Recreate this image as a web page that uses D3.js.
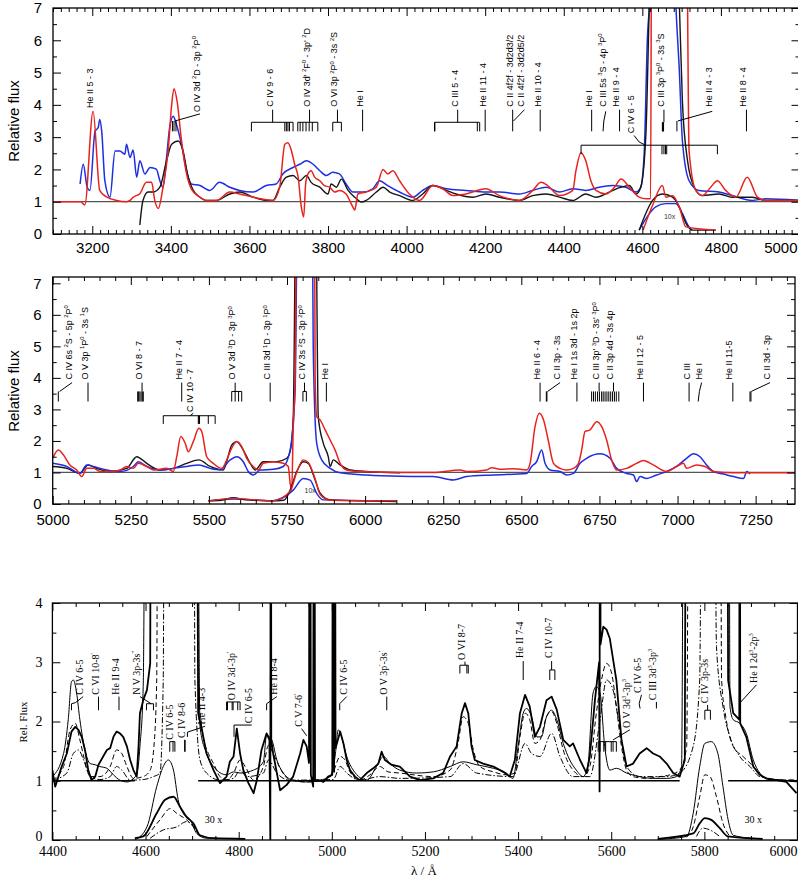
<!DOCTYPE html>
<html><head><meta charset="utf-8">
<script src="https://cdn.jsdelivr.net/npm/d3@7"></script>
<style>
body{margin:0;background:#fff;}
svg{display:block;}
text{white-space:pre;}
</style></head><body>
<svg id="c" width="798" height="882"></svg>
<script>
// ---------------- DATA: top panel (3100-5000 A) ----------------
const topRed = [[3100,1.0],[3170,1.0],[3181,0.9],[3202,3.8],[3219,1.35],[3236,1.15],[3262,1.04],[3287,1.0],[3296,1.04],[3304,1.14],[3321,1.25],[3338,1.6],[3351,1.6],[3359,1.04],[3368,0.79],[3380,1.45],[3393,2.57],[3402,4.0],[3408,4.5],[3416,4.1],[3427,2.9],[3440,1.86],[3452,1.4],[3474,1.14],[3491,1.04],[3516,1.04],[3550,1.3],[3575,1.24],[3610,1.14],[3644,1.06],[3660,1.04],[3677,1.45],[3690,2.78],[3698,2.83],[3707,2.57],[3715,2.16],[3724,1.76],[3732,0.84],[3738,0.53],[3743,1.55],[3749,1.86],[3757,1.96],[3766,1.76],[3779,1.65],[3791,1.5],[3804,1.45],[3817,1.3],[3829,1.35],[3846,1.24],[3863,0.84],[3868,0.74],[3876,1.24],[3897,1.3],[3923,1.45],[3940,2.0],[3952,1.86],[3965,1.96],[3982,1.65],[4007,1.24],[4033,1.04],[4067,1.5],[4092,1.4],[4118,1.19],[4151,1.24],[4202,1.4],[4236,1.19],[4287,1.04],[4321,1.35],[4342,1.6],[4359,1.5],[4389,1.19],[4423,1.35],[4431,1.96],[4444,2.52],[4456,2.27],[4469,1.65],[4482,1.35],[4507,1.24],[4529,1.45],[4546,1.7],[4567,1.45],[4592,1.14],[4609,1.09],[4621,1.09],[4624,12],[4711,12],[4719,2.57],[4736,1.35],[4753,1.19],[4774,1.45],[4791,1.65],[4812,1.35],[4838,1.14],[4867,1.76],[4893,1.14],[4914,1.04],[5000,1.04]];
const topBlue = [[3169,1.55],[3177,2.16],[3187,1.45],[3194,1.35],[3207,3.18],[3215,3.3],[3219,3.55],[3224,3.18],[3232,1.65],[3245,1.14],[3258,2.57],[3270,2.57],[3283,2.47],[3287,2.78],[3296,2.37],[3304,2.6],[3313,1.76],[3321,2.27],[3334,1.86],[3347,2.06],[3363,2.01],[3372,1.65],[3380,1.45],[3389,2.37],[3397,3.3],[3406,3.65],[3414,3.4],[3427,2.78],[3440,1.96],[3452,1.55],[3474,1.5],[3499,1.35],[3524,1.6],[3550,1.45],[3575,1.35],[3609,1.3],[3643,1.5],[3668,1.55],[3685,1.86],[3711,2.06],[3728,2.16],[3745,2.27],[3762,2.16],[3779,1.96],[3796,1.81],[3812,1.91],[3829,1.86],[3846,1.55],[3863,1.3],[3889,1.3],[3914,1.4],[3931,1.65],[3952,1.5],[3982,1.3],[4016,1.14],[4041,1.35],[4067,1.5],[4101,1.4],[4151,1.35],[4202,1.3],[4236,1.3],[4287,1.24],[4321,1.35],[4355,1.45],[4389,1.3],[4423,1.4],[4456,1.35],[4490,1.45],[4524,1.5],[4558,1.45],[4584,1.3],[4596,1.45],[4605,2.57],[4613,6.1],[4619,7.2],[4640,14],[4670,14],[4685,7.2],[4694,5.1],[4702,2.88],[4719,1.65],[4744,1.35],[4795,1.3],[4829,1.19],[4880,1.04],[4914,1.09],[5000,1.04]];
const topBlack = [[3321,0.28],[3329,1.04],[3342,1.3],[3355,1.3],[3372,1.45],[3389,2.27],[3402,2.78],[3419,2.88],[3431,2.57],[3444,1.76],[3457,1.35],[3474,1.14],[3491,1.04],[3516,1.04],[3550,1.24],[3575,1.3],[3610,1.14],[3644,1.04],[3660,1.04],[3677,1.45],[3694,1.76],[3711,1.81],[3728,1.65],[3745,1.81],[3757,1.6],[3779,1.45],[3800,1.24],[3808,1.55],[3821,1.45],[3834,1.7],[3851,1.35],[3868,1.14],[3885,0.99],[3897,1.04],[3923,1.3],[3940,1.45],[3957,1.3],[3982,1.19],[4016,1.04],[4041,1.24],[4067,1.5],[4101,1.35],[4126,1.24],[4168,1.14],[4202,1.24],[4236,1.14],[4287,1.04],[4321,1.19],[4355,1.24],[4389,1.14],[4423,1.04],[4456,1.24],[4482,1.14],[4516,1.3],[4546,1.45],[4567,1.5],[4584,1.24],[4596,1.45],[4609,3.08],[4618,7.2],[4640,14],[4670,14],[4694,7.2],[4702,4.1],[4715,2.27],[4732,1.45],[4753,1.19],[4795,1.24],[4829,1.14],[4880,1.14],[4914,1.04],[5000,1.04]];
const topInsetBlack = [[4592,0.12],[4626,1.04],[4651,1.24],[4677,1.14],[4694,0.84],[4711,0.33],[4727,0.12],[4787,0.12]];
const topInsetRed = [[4602,0.12],[4626,0.89],[4651,1.5],[4660,1.14],[4677,1.19],[4694,0.84],[4711,0.22],[4787,0.12]];
const topInsetBlue = [[4592,0.12],[4634,0.84],[4660,0.94],[4685,0.94],[4702,0.63],[4719,0.22],[4727,0.12]];

// ---------------- DATA: middle panel (5000-7376 A) ----------------
const midRed = [[5000,1.45],[5018,1.71],[5034,1.56],[5055,1.24],[5077,1.08],[5093,0.87],[5109,1.13],[5130,1.13],[5152,1.03],[5184,1.03],[5216,1.08],[5237,1.19],[5258,1.13],[5274,1.29],[5301,1.19],[5322,1.08],[5365,1.13],[5386,1.03],[5397,1.5],[5410,2.14],[5424,1.93],[5434,1.66],[5450,1.98],[5468,2.4],[5477,2.3],[5493,1.5],[5514,1.29],[5541,1.13],[5557,1.4],[5573,1.77],[5589,1.98],[5605,1.82],[5621,1.45],[5642,1.19],[5658,1.08],[5674,1.29],[5706,1.34],[5738,1.29],[5754,1.19],[5760,0.66],[5765,0.44],[5770,2.46],[5776,4.0],[5781,12],[5837,12],[5840,4.04],[5845,2.77],[5856,2.67],[5872,2.35],[5888,2.03],[5904,1.71],[5920,1.29],[5941,1.08],[5984,1.03],[6112,1.0],[6218,1.0],[6304,1.08],[6325,1.03],[6389,1.08],[6405,1.15],[6432,1.1],[6475,1.12],[6517,1.08],[6528,1.29],[6544,2.46],[6558,2.88],[6571,2.67],[6586,2.03],[6603,1.29],[6624,1.13],[6645,1.08],[6667,1.13],[6683,1.29],[6693,1.71],[6704,2.3],[6720,2.35],[6741,2.61],[6757,2.46],[6773,2.03],[6789,1.4],[6805,1.08],[6837,1.13],[6869,1.29],[6891,1.38],[6922,1.24],[6965,1.03],[6997,1.19],[7019,1.29],[7029,1.13],[7061,1.24],[7088,1.19],[7115,1.03],[7179,0.99],[7386,0.99]];
const midBlue = [[5000,1.29],[5045,1.19],[5087,0.97],[5109,1.24],[5130,1.19],[5173,1.08],[5216,1.03],[5258,1.19],[5274,1.34],[5301,1.19],[5344,1.08],[5386,1.13],[5429,1.19],[5468,1.24],[5504,1.13],[5536,1.08],[5568,1.4],[5589,1.5],[5610,1.34],[5626,1.03],[5642,0.92],[5664,1.08],[5706,1.1],[5738,1.19],[5760,1.71],[5776,3.62],[5786,12],[5829,12],[5834,4.89],[5845,1.93],[5861,1.4],[5888,1.13],[5920,0.99],[6005,0.92],[6112,0.88],[6218,0.87],[6282,0.76],[6325,0.87],[6410,0.92],[6517,0.97],[6533,1.19],[6549,1.34],[6565,1.71],[6576,1.29],[6592,1.08],[6624,1.03],[6645,0.92],[6667,0.97],[6688,1.29],[6709,1.45],[6752,1.59],[6784,1.45],[6805,1.13],[6837,0.97],[6859,0.92],[6869,0.71],[6880,0.87],[6901,0.81],[6933,0.92],[6965,1.03],[6997,1.19],[7029,1.45],[7051,1.59],[7072,1.5],[7093,1.24],[7115,1.03],[7147,0.95],[7179,0.87],[7211,0.81],[7222,1.03],[7232,0.95]];
const midBlack = [[5000,1.19],[5045,1.13],[5087,0.97],[5114,1.24],[5141,1.13],[5184,1.03],[5237,1.13],[5269,1.5],[5280,1.45],[5301,1.29],[5344,1.08],[5386,1.13],[5429,1.29],[5468,1.4],[5504,1.19],[5546,1.08],[5573,1.87],[5589,1.98],[5610,1.71],[5632,1.29],[5648,1.08],[5674,1.34],[5717,1.34],[5749,1.45],[5760,1.66],[5770,2.77],[5781,12],[5840,12],[5850,2.77],[5866,1.93],[5882,1.5],[5888,1.19],[5898,1.4],[5920,1.24],[5952,1.08],[6005,1.03],[6112,0.99]];
const midInsetBlack = [[5498,0.1],[5540,0.12],[5578,0.2],[5620,0.13],[5700,0.1],[5740,0.12],[5760,0.44],[5781,1.03],[5802,1.34],[5818,1.29],[5840,0.76],[5856,0.34],[5888,0.13],[6100,0.08]];
const midInsetRed = [[5498,0.1],[5578,0.18],[5700,0.1],[5760,0.4],[5781,1.0],[5802,1.4],[5818,1.32],[5840,0.8],[5856,0.3],[5888,0.12],[6100,0.1]];
const midInsetBlue = [[5498,0.1],[5578,0.16],[5700,0.1],[5770,0.44],[5802,0.81],[5824,0.76],[5845,0.34],[5866,0.13],[6100,0.1]];

// ---------------- DATA: bottom panel (4400-6000 A) ----------------
const botObs = [[4400,1.18],[4406,0.9],[4413,1.07],[4420,1.24],[4431,1.46],[4441,1.83],[4449,1.91],[4456,1.86],[4463,1.74],[4470,1.52],[4477,1.18],[4484,1.01],[4492,1.07],[4499,1.27],[4509,1.41],[4517,1.52],[4524,1.55],[4531,1.74],[4538,1.83],[4545,1.8],[4552,1.74],[4560,1.58],[4567,1.35],[4574,1.18],[4581,1.07],[4585,1.58],[4588,2.14],[4595,2.36],[4603,2.53],[4610,2.98],[4613,12],[4708,12],[4713,2.14],[4721,1.86],[4731,1.46],[4746,1.18],[4760,0.96],[4774,1.07],[4781,1.32],[4789,1.41],[4796,1.88],[4803,1.46],[4810,1.18],[4821,0.96],[4832,0.79],[4839,1.01],[4849,1.52],[4860,1.8],[4866,1.69],[4868,0],[4869,12],[4870,1.69],[4874,1.46],[4882,1.13],[4889,0.84],[4903,0.93],[4917,1.07],[4932,1.46],[4939,1.69],[4946,1.58],[4951,1.3],[4953,12],[4955,1.1],[4960,0.9],[4962,12],[4964,1.0],[4971,1.01],[4982,0.98],[4992,1.07],[5001,1.1],[5003,12],[5005,1.15],[5006,12],[5008,1.55],[5018,1.83],[5025,1.63],[5032,1.35],[5039,1.18],[5050,1.07],[5060,1.01],[5075,1.13],[5089,1.21],[5100,1.29],[5107,1.49],[5114,1.35],[5128,1.27],[5146,1.24],[5168,1.07],[5189,1.01],[5218,1.04],[5239,1.13],[5254,1.41],[5268,1.58],[5279,2.14],[5286,2.31],[5293,2.14],[5300,1.58],[5307,1.35],[5325,1.29],[5347,1.24],[5368,1.15],[5382,1.07],[5393,1.35],[5404,2.14],[5415,2.45],[5425,2.25],[5436,1.74],[5447,1.91],[5461,2.36],[5472,2.42],[5483,2.2],[5497,1.69],[5511,1.58],[5518,1.63],[5533,1.35],[5547,1.13],[5554,1.41],[5565,2.36],[5574,3.0],[5575,0.82],[5576,12],[5577,3.3],[5583,3.6],[5590,3.55],[5597,3.4],[5611,2.7],[5622,1.69],[5633,1.24],[5647,1.29],[5661,1.46],[5676,1.55],[5690,1.46],[5704,1.41],[5719,1.29],[5733,1.13],[5747,1.07],[5758,1.35],[5762,12],[5848,12],[5851,2.7],[5862,2.14],[5875,2.03],[5876,12],[5877,1.97],[5890,1.74],[5905,1.24],[5919,1.1],[5933,1.04],[5955,1.01],[5976,0.98],[5998,0.79]];
const botModelA = [[4400,1.07],[4424,1.46],[4434,2.03],[4441,2.67],[4445,2.7],[4452,2.48],[4459,2.03],[4470,1.52],[4481,1.29],[4492,1.27],[4502,1.24],[4517,1.21],[4531,1.1],[4545,1.01],[4560,0.98],[4581,1.1],[4588,1.58],[4595,2.59],[4603,12],[4708,12],[4717,1.91],[4731,1.46],[4746,1.24],[4774,1.1],[4789,1.15],[4803,1.13],[4832,1.18],[4853,1.32],[4860,1.77],[4871,1.69],[4882,1.35],[4896,1.13],[4917,1.01],[4946,0.98],[4975,1.01],[4996,1.07],[5007,1.41],[5014,1.86],[5021,1.74],[5032,1.41],[5046,1.18],[5075,1.01],[5096,1.24],[5111,1.41],[5125,1.29],[5146,1.18],[5182,1.13],[5218,1.15],[5254,1.24],[5282,1.32],[5311,1.27],[5347,1.21],[5375,1.13],[5389,1.04],[5400,1.58],[5411,2.14],[5418,2.22],[5429,2.08],[5440,1.74],[5450,1.74],[5461,2.08],[5472,2.19],[5483,2.03],[5497,1.63],[5511,1.35],[5525,1.18],[5540,1.07],[5550,1.27],[5561,2.48],[5568,2.59],[5576,2.48],[5586,1.58],[5597,1.18],[5611,1.21],[5633,1.13],[5661,1.07],[5690,1.04],[5719,1.04],[5740,1.07],[5751,1.24],[5758,12],[5852,12],[5855,2.25],[5862,2.03],[5876,1.97],[5890,1.8],[5905,1.35],[5919,1.13],[5933,1.04],[5969,1.01],[5998,0.98]];
const botModelB = [[4400,1.01],[4424,1.24],[4438,1.86],[4449,1.97],[4459,1.69],[4470,1.32],[4481,1.07],[4502,1.07],[4524,1.24],[4538,1.52],[4549,1.46],[4560,1.24],[4574,1.04],[4595,1.07],[4610,1.18],[4618,1.58],[4624,2.7],[4628,12],[4710,12],[4713,2.7],[4724,1.74],[4735,1.46],[4746,1.29],[4760,1.07],[4774,1.01],[4789,1.13],[4803,1.35],[4814,1.24],[4832,1.01],[4853,1.24],[4864,1.6],[4874,1.46],[4889,1.21],[4910,1.01],[4946,0.98],[4989,1.01],[5003,1.15],[5018,1.41],[5028,1.35],[5039,1.15],[5060,1.01],[5082,1.1],[5103,1.24],[5121,1.15],[5146,1.13],[5218,1.07],[5254,1.18],[5271,1.63],[5282,2.08],[5293,1.97],[5304,1.52],[5318,1.24],[5347,1.15],[5375,1.1],[5393,1.13],[5404,1.74],[5415,2.14],[5425,2.03],[5436,1.63],[5447,1.69],[5461,2.08],[5472,2.17],[5483,1.97],[5497,1.52],[5518,1.18],[5540,1.07],[5554,1.24],[5568,2.14],[5579,2.7],[5590,2.98],[5601,2.81],[5611,2.25],[5622,1.58],[5633,1.18],[5647,1.07],[5676,1.04],[5704,1.07],[5726,1.1],[5747,1.18],[5762,1.58],[5769,12],[5833,12],[5837,2.7],[5847,2.03],[5862,1.58],[5883,1.41],[5905,1.24],[5919,1.1],[5941,1.02],[5998,1.01]];
const botModelC = [[4400,1.01],[4431,1.13],[4445,1.46],[4456,1.52],[4467,1.35],[4481,1.07],[4502,1.02],[4524,1.07],[4538,1.24],[4549,1.18],[4567,1.01],[4595,1.02],[4617,1.07],[4631,1.13],[4638,2.7],[4642,12],[4703,12],[4706,2.7],[4717,1.35],[4731,1.13],[4760,1.01],[4789,1.04],[4803,1.18],[4817,1.07],[4853,1.13],[4864,1.35],[4882,1.13],[4910,1.01],[5003,1.02],[5018,1.24],[5032,1.13],[5060,1.01],[5103,1.07],[5146,1.04],[5254,1.07],[5282,1.29],[5311,1.13],[5389,1.07],[5415,1.63],[5429,1.46],[5447,1.41],[5472,1.8],[5490,1.41],[5518,1.07],[5554,1.07],[5576,2.03],[5590,2.7],[5604,2.53],[5619,1.86],[5633,1.24],[5661,1.07],[5719,1.07],[5747,1.13],[5776,1.58],[5790,2.7],[5797,12],[5819,12],[5826,3.26],[5840,2.25],[5855,1.74],[5876,1.41],[5898,1.24],[5919,1.07],[5969,1.01],[5998,1.01]];
// 30x insets
const botInsetObs1 = [[4577,0.03],[4595,0.06],[4624,0.45],[4642,0.68],[4660,0.73],[4674,0.56],[4688,0.39],[4703,0.28],[4717,0.08],[4746,0.03],[4814,0.02]];
const botInsetA1 = [[4577,0],[4603,0.22],[4624,0.9],[4638,1.24],[4649,1.35],[4660,1.18],[4670,0.68],[4681,0.45],[4696,0.34],[4710,0.11],[4731,0.03],[4814,0.02]];
const botInsetB1 = [[4603,0.06],[4631,0.34],[4653,0.53],[4667,0.45],[4688,0.34],[4703,0.22],[4717,0.06]];
const botInsetC1 = [[4610,0.03],[4638,0.17],[4667,0.22],[4688,0.31],[4706,0.2],[4717,0.06]];
const botInsetObs2 = [[5700,0.02],[5776,0.11],[5790,0.28],[5801,0.37],[5815,0.34],[5833,0.2],[5851,0.06],[5925,0.02]];
const botInsetA2 = [[5700,0.01],[5762,0.06],[5776,0.45],[5790,1.24],[5801,1.63],[5815,1.66],[5829,1.46],[5840,0.9],[5851,0.34],[5862,0.08],[5901,0.03],[5925,0.02]];
const botInsetB2 = [[5762,0.05],[5776,0.22],[5790,0.73],[5801,1.1],[5812,1.07],[5826,0.73],[5840,0.28],[5855,0.06]];
const botInsetC2 = [[5783,0.06],[5797,0.2],[5812,0.17],[5833,0.06]];
const botBaseline = [[4400,4577],[4713,5747],[5851,6000]];

// ---------------- LINE IDENTIFICATIONS ----------------
const topLabels = [
 {t:"He II 5 - 3", x:3202, y:3.9},
 {t:"O IV 3d {2}D - 3p {2}P{0}", x:3474, y:3.78, segs:[[3474,3.72,3410,3.5]], ticks:[3404,3408,3413], tk:[3.5,3.18]},
 {t:"C IV 9 - 6", x:3659, y:3.94, segs:[[3659,3.85,3659,3.46],[3605,3.46,3711,3.46]], ticks:[3605,3690,3694,3698,3702,3711], tk:[3.46,3.18]},
 {t:"O IV 3d' {2}F{0} - 3p' {2}D", x:3753, y:3.94, segs:[[3753,3.85,3753,3.46],[3723,3.46,3774,3.46]], ticks:[3723,3729,3736,3744,3752,3760,3774], tk:[3.46,3.18]},
 {t:"O VI 3p {2}P{0} - 3s {2}S", x:3824, y:3.94, segs:[[3824,3.85,3824,3.46],[3812,3.46,3834,3.46]], ticks:[3812,3834], tk:[3.46,3.18]},
 {t:"He I", x:3888, y:3.94, ticks:[3888], tk:[3.85,3.18]},
 {t:"C III 5 - 4", x:4130, y:3.94, segs:[[4130,3.85,4130,3.46],[4071,3.46,4185,3.46]], ticks:[4071,4072,4180,4186], tk:[3.46,3.18]},
 {t:"He II 11 - 4", x:4202, y:3.94, ticks:[4200], tk:[3.85,3.18]},
 {t:"C II 4f2f - 3d2d3/2", x:4270, y:3.94, ticks:[4270], tk:[3.85,3.18]},
 {t:"C II 4f2f - 3d2d5/2", x:4300, y:3.94, segs:[[4300,3.85,4272,3.5]]},
 {t:"He II 10 - 4", x:4342, y:3.94, ticks:[4340], tk:[3.85,3.18]},
 {t:"He I", x:4473, y:3.94, ticks:[4471], tk:[3.85,3.18]},
 {t:"C III 5s {3}S - 4p {3}P{0}", x:4507, y:3.94, segs:[[4507,3.8,4502,3.5],[4502,3.5,4500,3.18]]},
 {t:"He II 9 - 4", x:4541, y:3.94, ticks:[4542], tk:[3.85,3.18]},
 {t:"C IV 6 - 5", x:4579, y:3.12, segs:[[4579,3.05,4592,2.85],[4592,2.85,4608,2.75],[4444,2.75,4791,2.75]], ticks:[4444,4650,4655,4659,4662,4791], tk:[2.75,2.47]},
 {t:"C III 3p {3}P{0} - 3s {3}S", x:4655, y:3.94, segs:[[4655,3.85,4655,3.46]], ticks:[4651,4652,4653,4654], tk:[3.46,3.18]},
 {t:"He II 4 - 3", x:4778, y:3.94, segs:[[4778,3.8,4690,3.5]], ticks:[4688], tk:[3.5,3.18]},
 {t:"He II 8 - 4", x:4865, y:3.94, ticks:[4865], tk:[3.85,3.18]}
];
const midLabels = [
 {t:"C IV 6s {2}S - 5p {2}P{0}", x:5062, y:3.95, segs:[[5062,3.85,5022,3.57]], ticks:[5018], tk:[3.57,3.25]},
 {t:"O V 3p {1}P{0} - 3s {1}S", x:5113, y:3.95, ticks:[5113], tk:[3.85,3.25]},
 {t:"O VI 8 - 7", x:5286, y:3.95, segs:[[5286,3.85,5286,3.57]], ticks:[5272,5275,5279,5283,5287,5290], tk:[3.57,3.25]},
 {t:"He II 7 - 4", x:5413, y:3.95, ticks:[5413], tk:[3.85,3.25]},
 {t:"C IV 10 - 7", x:5450, y:2.92, segs:[[5450,2.88,5440,2.8],[5354,2.8,5520,2.8]], ticks:[5354,5466,5468,5470,5498,5520], tk:[2.8,2.54]},
 {t:"O V 3d {3}D - 3p {3}P{0}", x:5584, y:3.95, segs:[[5584,3.85,5584,3.57],[5573,3.57,5605,3.57]], ticks:[5573,5584,5595,5605], tk:[3.57,3.25]},
 {t:"C III 3d {1}D - 3p {1}P{0}", x:5696, y:3.95, ticks:[5696], tk:[3.85,3.25]},
 {t:"C IV 3s {2}S - 3p {2}P{0}", x:5808, y:3.95, segs:[[5806,3.85,5806,3.57],[5801,3.57,5812,3.57]], ticks:[5801,5812], tk:[3.57,3.25]},
 {t:"He I", x:5881, y:3.95, ticks:[5876], tk:[3.85,3.25]},
 {t:"He II 6 - 4", x:6560, y:3.95, ticks:[6560], tk:[3.85,3.25]},
 {t:"C II 3p - 3s", x:6624, y:3.95, segs:[[6624,3.85,6584,3.57]], ticks:[6580,6582], tk:[3.57,3.25]},
 {t:"He I 1s 3d - 1s 2p", x:6677, y:3.95, ticks:[6678], tk:[3.85,3.25]},
 {t:"C III 3p' {3}D - 3s' {3}P{0}", x:6749, y:3.95, segs:[[6749,3.85,6749,3.57]], ticks:[6725,6731,6737,6744,6750,6757,6762,6768,6774,6780,6786,6792,6798,6804,6812], tk:[3.57,3.25]},
 {t:"C II 3p 4d - 3s 4p", x:6795, y:3.95, segs:[[6795,3.85,6795,3.57]]},
 {t:"He II 12 - 5", x:6891, y:3.95, ticks:[6891], tk:[3.85,3.25]},
 {t:"C III", x:7040, y:3.95, ticks:[7037], tk:[3.85,3.25]},
 {t:"He I", x:7077, y:3.95, segs:[[7077,3.85,7070,3.57],[7070,3.57,7066,3.25]]},
 {t:"He II 11-5", x:7175, y:3.95, ticks:[7177], tk:[3.85,3.25]},
 {t:"C II 3d - 3p", x:7296, y:3.95, segs:[[7296,3.85,7236,3.57]], ticks:[7232,7235], tk:[3.57,3.25]}
];
const botLabels = [
 {t:"C IV 6-5", x:4466, y:2.45, segs:[[4466,2.42,4450,2.32],[4450,2.32,4441,2.3]], ticks:[4441], tk:[2.3,2.19]},
 {t:"C VI 10-8{'}", x:4499, y:2.45, ticks:[4499], tk:[2.42,2.19]},
 {t:"He II 9-4", x:4543, y:2.45, ticks:[4543], tk:[2.42,2.19]},
 {t:"N V 3p-3s{''}", x:4588, y:2.45, segs:[[4588,2.42,4612,2.3],[4602,2.3,4617,2.3]], ticks:[4602,4617], tk:[2.3,2.19]},
 {t:"C IV 6-5", x:4660, y:1.69, segs:[[4652,1.66,4663,1.66]], ticks:[4652,4659,4663], tk:[1.66,1.49]},
 {t:"C IV 8-6", x:4685, y:1.72, ticks:[4684,4685], tk:[1.69,1.49]},
 {t:"He II 4-3", x:4728, y:1.95, segs:[[4728,1.92,4690,1.82]], ticks:[4690], tk:[1.82,1.74]},
 {t:"O IV 3d{'}-3p{'}", x:4792, y:2.36, segs:[[4774,2.33,4803,2.33]], ticks:[4774,4776,4786,4788,4798,4803], tk:[2.33,2.19]},
 {t:"C IV 6-5", x:4828, y:1.97, segs:[[4828,1.94,4790,1.94]], ticks:[4790], tk:[1.94,1.74]},
 {t:"He II 8-4", x:4882, y:2.45, segs:[[4882,2.42,4860,2.3]], ticks:[4860], tk:[2.3,2.19]},
 {t:"C V 7-6{'}", x:4935, y:1.91, segs:[[4935,1.88,4946,1.76]]},
 {t:"C IV 6-5", x:5032, y:2.45, segs:[[5032,2.42,5017,2.3]], ticks:[5017], tk:[2.3,2.19]},
 {t:"O V 3p{'}-3s{'}", x:5118, y:2.45, ticks:[5118], tk:[2.42,2.19]},
 {t:"O VI 8-7", x:5286, y:3.04, segs:[[5286,3.01,5286,2.95],[5275,2.95,5293,2.95]], ticks:[5275,5290,5293], tk:[2.95,2.81]},
 {t:"He II 7-4", x:5411, y:3.07, ticks:[5411], tk:[3.02,2.7]},
 {t:"C IV 10-7", x:5472, y:3.07, segs:[[5472,3.02,5472,2.87],[5468,2.87,5479,2.87]], ticks:[5468,5479], tk:[2.87,2.7]},
 {t:"O V 3d{3}-3p{3}", x:5640, y:1.89, segs:[[5640,1.86,5604,1.69],[5572,1.66,5611,1.66]], ticks:[5572,5576,5584,5588,5600,5604,5611], tk:[1.66,1.49]},
 {t:"C IV 6-5", x:5665, y:2.48, segs:[[5665,2.45,5660,2.3],[5660,2.3,5662,2.22]]},
 {t:"C III 3d{3}-3p{3}", x:5697, y:2.36, ticks:[5697], tk:[2.33,2.22]},
 {t:"C IV 3p-3s", x:5808, y:2.31, segs:[[5807,2.28,5807,2.19],[5801,2.19,5813,2.19]], ticks:[5801,5813], tk:[2.19,2.03]},
 {t:"He I 2d{3}-2p{3}", x:5912, y:2.65, segs:[[5912,2.62,5876,2.31]]}
];

// ---------------- DRAWING ----------------
const SANS = "'Liberation Sans', Arial, Helvetica, sans-serif";
const SERIF = "'Liberation Serif', 'Times New Roman', serif";
const svg = d3.select("#c");
const defs = svg.append("defs");
const W = 798;

function makePanel(id, cfg) {
  const x = d3.scaleLinear().domain(cfg.xd).range(cfg.xr);
  const y = d3.scaleLinear().domain(cfg.yd).range(cfg.yr);
  const [L, R] = cfg.xr, [B, T] = cfg.yr;
  defs.append("clipPath").attr("id", "clip" + id).append("rect")
    .attr("x", L).attr("y", T).attr("width", R - L).attr("height", B - T);
  const g = svg.append("g");
  const plot = g.append("g").attr("clip-path", `url(#clip${id})`);
  const ax = g.append("g");
  const xMaj = d3.range(Math.ceil(cfg.xd[0] / cfg.xMaj) * cfg.xMaj, cfg.xd[1] + 0.01, cfg.xMaj);
  const xMin = d3.range(Math.ceil(cfg.xd[0] / cfg.xMin) * cfg.xMin, cfg.xd[1] + 0.01, cfg.xMin).filter(v => v % cfg.xMaj !== 0);
  const yMaj = d3.range(0, cfg.yd[1] + 0.001, 1);
  const yMin = d3.range(0.5, cfg.yd[1] + 0.001, 1);
  const style = a => a.call(s => s.select(".domain").remove())
    .call(s => s.selectAll("line").attr("stroke", "#000").attr("stroke-width", 1))
    .call(s => s.selectAll("text").attr("font-family", cfg.font).attr("font-size", cfg.fs).attr("fill", "#000"));
  // bottom
  const xb = ax.append("g").attr("transform", `translate(0,${B})`)
    .call(d3.axisBottom(x).tickValues(xMaj).tickFormat(d3.format("d")).tickSize(-8).tickPadding(cfg.xpad)).call(style);
  // keep the last label inside the page
  xb.selectAll(".tick text").filter(d => x(d) + cfg.fs * 1.2 > W)
    .attr("text-anchor", "end").attr("x", d => W - 1 - x(d));
  ax.append("g").attr("transform", `translate(0,${B})`)
    .call(d3.axisBottom(x).tickValues(xMin).tickFormat("").tickSize(-4)).call(style);
  // top
  ax.append("g").attr("transform", `translate(0,${T})`)
    .call(d3.axisTop(x).tickValues(xMaj).tickFormat("").tickSize(-8)).call(style);
  ax.append("g").attr("transform", `translate(0,${T})`)
    .call(d3.axisTop(x).tickValues(xMin).tickFormat("").tickSize(-4)).call(style);
  // left
  const yl = ax.append("g").attr("transform", `translate(${L},0)`)
    .call(d3.axisLeft(y).tickValues(yMaj).tickFormat(d3.format("d")).tickSize(-8).tickPadding(cfg.ypad)).call(style);
  if (cfg.zeroUp) yl.selectAll(".tick text").filter(d => d === 0).attr("dy", "0.05em");
  ax.append("g").attr("transform", `translate(${L},0)`)
    .call(d3.axisLeft(y).tickValues(yMin).tickFormat("").tickSize(-4)).call(style);
  // right
  ax.append("g").attr("transform", `translate(${R},0)`)
    .call(d3.axisRight(y).tickValues(yMaj).tickFormat("").tickSize(-8)).call(style);
  ax.append("g").attr("transform", `translate(${R},0)`)
    .call(d3.axisRight(y).tickValues(yMin).tickFormat("").tickSize(-4)).call(style);
  g.append("rect").attr("x", L).attr("y", T).attr("width", R - L).attr("height", B - T)
    .attr("fill", "none").attr("stroke", "#000").attr("stroke-width", 1.3);
  return {x, y, plot, g};
}

function drawLine(P, data, color, width, dash, curve) {
  const line = d3.line().x(d => P.x(d[0])).y(d => P.y(d[1])).curve(curve || d3.curveMonotoneX);
  P.plot.append("path").datum(data).attr("d", line).attr("fill", "none")
    .attr("stroke", color).attr("stroke-width", width).attr("stroke-linejoin", "round")
    .attr("stroke-dasharray", dash || null);
}

function richText(sel, str, fs) {
  const parts = str.split(/[{}]/);
  let prevSup = false;
  parts.forEach((p, i) => {
    if (!p) return;
    const sup = i % 2 === 1;
    const ts = sel.append("tspan").text(p);
    if (sup) ts.attr("font-size", fs * 0.65).attr("dy", prevSup ? 0 : -fs * 0.4);
    else ts.attr("dy", prevSup ? fs * 0.4 : 0);
    prevSup = sup;
  });
}

function drawLabels(P, labels, font, fs) {
  const lg = P.g.append("g");
  labels.forEach(Lb => {
    const t = lg.append("text")
      .attr("transform", `translate(${P.x(Lb.x)},${P.y(Lb.y)}) rotate(-90)`)
      .attr("dy", "0.35em").attr("font-family", font).attr("font-size", fs).attr("fill", "#000");
    richText(t, Lb.t, fs);
    (Lb.segs || []).forEach(s => lg.append("line")
      .attr("x1", P.x(s[0])).attr("y1", P.y(s[1])).attr("x2", P.x(s[2])).attr("y2", P.y(s[3]))
      .attr("stroke", "#000").attr("stroke-width", 1));
    (Lb.ticks || []).forEach(v => lg.append("line")
      .attr("x1", P.x(v)).attr("x2", P.x(v)).attr("y1", P.y(Lb.tk[0])).attr("y2", P.y(Lb.tk[1]))
      .attr("stroke", "#000").attr("stroke-width", 1));
  });
}

const RED = "#e8231d", BLUE = "#1e2ee0", BLK = "#151515";

// ---- Panel 1
const P1 = makePanel(1, {xd:[3100,5000], xr:[53,799.5], yd:[0,7], yr:[234,8], xMaj:200, xMin:20, font:SANS, fs:15, xpad:8, ypad:11});
P1.plot.append("line").attr("x1", P1.x(3100)).attr("x2", P1.x(5000)).attr("y1", P1.y(1)).attr("y2", P1.y(1)).attr("stroke", "#555").attr("stroke-width", 1.2);
drawLine(P1, topBlue, BLUE, 1.5);
drawLine(P1, topBlack, BLK, 1.4);
drawLine(P1, topRed, RED, 1.5);
drawLine(P1, topInsetBlue, BLUE, 1.4);
drawLine(P1, topInsetBlack, BLK, 1.4);
drawLine(P1, topInsetRed, RED, 1.4);
P1.g.append("text").attr("x", P1.x(4655)).attr("y", P1.y(0.45)).attr("font-family", SANS).attr("font-size", 7).attr("fill", "#333").text("10x");
drawLabels(P1, topLabels, SANS, 9);
svg.append("text").attr("transform", `translate(19,${(234+8)/2}) rotate(-90)`).attr("text-anchor", "middle")
  .attr("font-family", SANS).attr("font-size", 15).text("Relative flux");

// ---- Panel 2
const P2 = makePanel(2, {xd:[5000,7376], xr:[52.7,795], yd:[0,7.2], yr:[504,277], xMaj:250, xMin:50, font:SANS, fs:15, xpad:10, ypad:11});
P2.plot.append("line").attr("x1", P2.x(5000)).attr("x2", P2.x(7376)).attr("y1", P2.y(1)).attr("y2", P2.y(1)).attr("stroke", "#555").attr("stroke-width", 1.2);
drawLine(P2, midBlack, BLK, 1.4);
drawLine(P2, midBlue, BLUE, 1.5);
drawLine(P2, midRed, RED, 1.5);
drawLine(P2, midInsetBlue, BLUE, 1.4);
drawLine(P2, midInsetBlack, BLK, 1.4);
drawLine(P2, midInsetRed, RED, 1.4);
P2.g.append("text").attr("x", P2.x(5806)).attr("y", P2.y(0.35)).attr("font-family", SANS).attr("font-size", 7).attr("fill", "#333").text("10x");
drawLabels(P2, midLabels, SANS, 9);
svg.append("text").attr("transform", `translate(19,391) rotate(-90)`).attr("text-anchor", "middle")
  .attr("font-family", SANS).attr("font-size", 15).text("Relative flux");

// ---- Panel 3
const P3 = makePanel(3, {xd:[4400,6000], xr:[52.4,797.5], yd:[0,4], yr:[840,603], xMaj:200, xMin:50, font:SERIF, fs:14, xpad:6, ypad:10, zeroUp:true});
botBaseline.forEach(s => P3.plot.append("line").attr("x1", P3.x(s[0])).attr("x2", P3.x(s[1]))
  .attr("y1", P3.y(1)).attr("y2", P3.y(1)).attr("stroke", "#000").attr("stroke-width", 1.4));
drawLine(P3, botModelC, "#000", 1, "6,2,1.5,2");
drawLine(P3, botModelB, "#000", 1, "5,3");
drawLine(P3, botModelA, "#000", 1);
drawLine(P3, botObs, "#000", 1.8, null, d3.curveLinear);
drawLine(P3, botInsetC1, "#000", 1, "6,2,1.5,2");
drawLine(P3, botInsetB1, "#000", 1, "5,3");
drawLine(P3, botInsetA1, "#000", 1);
drawLine(P3, botInsetObs1, "#000", 1.8);
drawLine(P3, botInsetC2, "#000", 1, "6,2,1.5,2");
drawLine(P3, botInsetB2, "#000", 1, "5,3");
drawLine(P3, botInsetA2, "#000", 1);
drawLine(P3, botInsetObs2, "#000", 1.8);
P3.g.append("text").attr("x", P3.x(4727)).attr("y", P3.y(0.28)).attr("font-family", SERIF).attr("font-size", 10).text("30 x");
P3.g.append("text").attr("x", P3.x(5886)).attr("y", P3.y(0.28)).attr("font-family", SERIF).attr("font-size", 10).text("30 x");
drawLabels(P3, botLabels, SERIF, 10);
svg.append("text").attr("transform", `translate(27,722) rotate(-90)`).attr("text-anchor", "middle")
  .attr("font-family", SERIF).attr("font-size", 11).text("Rel. Flux");
svg.append("text").attr("x", 411).attr("y", 875).attr("font-family", SERIF).attr("font-size", 13).text("λ / Å");
</script></body></html>
